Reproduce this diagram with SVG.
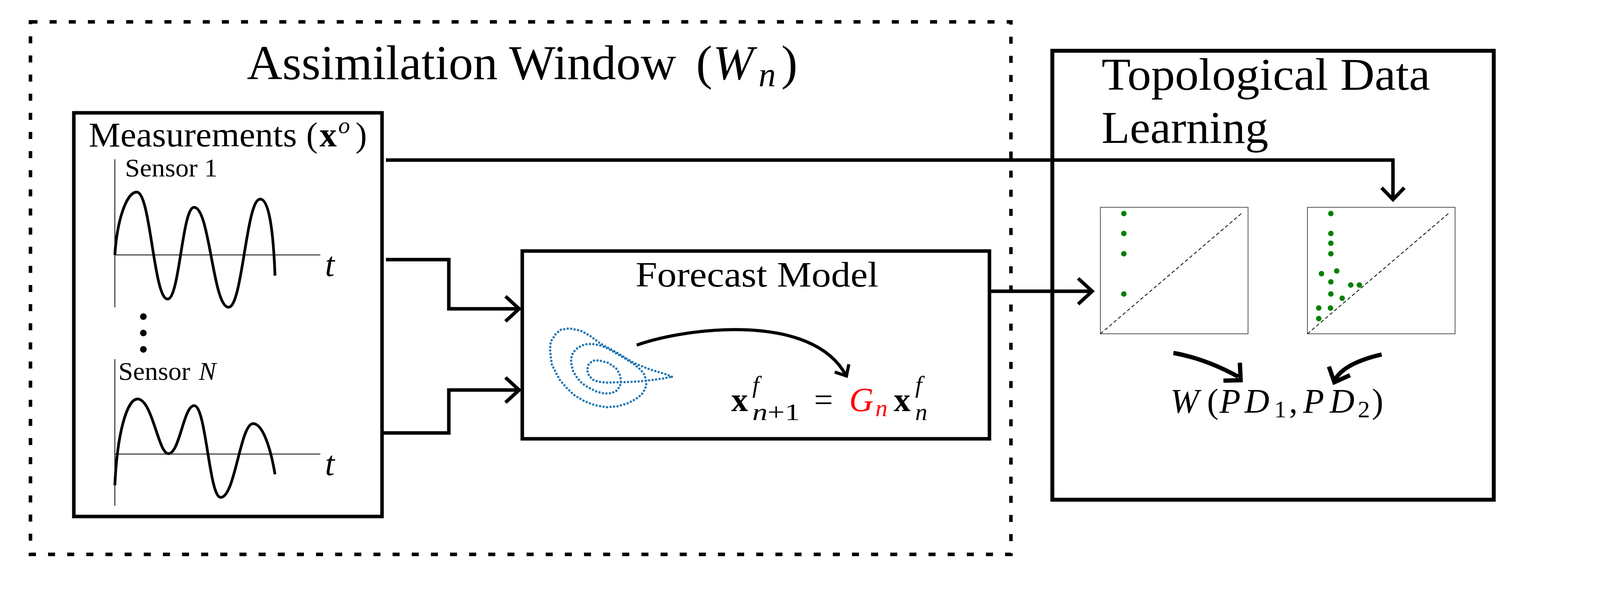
<svg xmlns="http://www.w3.org/2000/svg" width="4917" height="1542" viewBox="0 0 4917 1542">
<style>
.t{font-family:"Liberation Serif","DejaVu Serif",serif;fill:#000}
.i{font-style:italic}
.b{font-weight:bold}
.box{fill:none;stroke:#000;stroke-width:9}
.con{fill:none;stroke:#000;stroke-width:9;stroke-linejoin:miter}
.wave{fill:none;stroke:#000;stroke-width:7;stroke-linecap:butt}
.axis{fill:none;stroke:#000;stroke-width:2}
.pd{fill:#fff;stroke:#555;stroke-width:2}
.diag{fill:none;stroke:#000;stroke-width:2;stroke-dasharray:9 6}
.att{fill:none;stroke:#1f77b4;stroke-width:6;stroke-linecap:round;stroke-dasharray:0 9}
.g{fill:#008000}
</style>
<rect width="4917" height="1542" fill="#fff"/>

<g id="assimilation-window">
  <rect x="78" y="56" width="2510" height="1364" fill="none" stroke="#000" stroke-width="9" stroke-dasharray="18 31"/>
  <text class="t" x="632" y="203" font-size="125" textLength="1099" lengthAdjust="spacingAndGlyphs">Assimilation Window</text>
  <text class="t" x="1782" y="203" font-size="125">(</text>
  <text class="t i" x="1825" y="203" font-size="125">W</text>
  <text class="t i" x="1942" y="221" font-size="88">n</text>
  <text class="t" x="2000" y="203" font-size="125">)</text>
</g>

<g id="measurements">
  <rect class="box" x="189" y="289" width="789" height="1034"/>
  <text class="t" x="227" y="375" font-size="88" textLength="533" lengthAdjust="spacingAndGlyphs">Measurements</text>
  <text class="t" x="784" y="375" font-size="88">(</text>
  <text class="t b" x="818" y="375" font-size="88">x</text>
  <text class="t i" x="866" y="341" font-size="60">o</text>
  <text class="t" x="910" y="375" font-size="88">)</text>
  <!-- sensor 1 -->
  <path class="axis" d="M294 408 V787 M294 653 H820"/>
  <text class="t" x="320" y="452" font-size="66" textLength="237" lengthAdjust="spacingAndGlyphs">Sensor 1</text>
  <path class="wave" d="M294 653 C300 560,325 492,350 492 C386 492,393 766,429 766 C460 766,466 531,497 531 C537 531,545 787,585 787 C621 787,630 510,666 510 C690 510,700 600,704 706"/>
  <text class="t i" x="832" y="707" font-size="88">t</text>
  <circle cx="367" cy="811" r="8.5"/>
  <circle cx="367" cy="853" r="8.5"/>
  <circle cx="367" cy="895" r="8.5"/>
  <!-- sensor N -->
  <path class="axis" d="M294 920 V1295 M294 1163 H820"/>
  <text class="t" x="303" y="973" font-size="66" textLength="184" lengthAdjust="spacingAndGlyphs">Sensor</text>
  <text class="t i" x="509" y="973" font-size="66">N</text>
  <path class="wave" d="M294 1243 C300 1110,325 1022,352 1022 C390 1022,405 1162,431 1162 C460 1162,470 1039,497 1039 C528 1039,535 1274,565 1274 C602 1274,615 1085,648 1085 C675 1085,695 1160,704 1215"/>
  <text class="t i" x="832" y="1217" font-size="88">t</text>
</g>

<g id="forecast-model">
  <rect class="box" x="1337" y="643" width="1196" height="481"/>
  <text class="t" x="1627" y="734" font-size="92" textLength="622" lengthAdjust="spacingAndGlyphs">Forecast Model</text>
  <path class="att" d="M1720 965 L1703 958 L1660 945 L1623 930 L1577 902 L1537 880 L1513 862 L1487 847 L1457 841 L1435 845 L1423 855 L1410 875 L1408 893 L1410 915 L1413 935 L1433 973 L1450 993 L1470 1012 L1495 1027 L1523 1038 L1553 1043 L1580 1041 L1607 1033 L1628 1022 L1643 1010 L1652 995 L1655 980 L1650 960 L1640 947 L1623 933 L1600 918 L1577 905 L1557 893 L1537 885 L1517 881 L1497 882 L1480 890 L1467 903 L1462 918 L1462 930 L1467 950 L1477 967 L1490 982 L1507 993 L1527 1003 L1547 1008 L1565 1007 L1577 1002 L1587 990 L1590 973 L1586 958 L1577 943 L1556 929 L1533 923 L1518 924 L1507 933 L1503 948 L1508 963 L1520 974 L1533 978 L1553 980 L1595 979 L1637 977 L1673 973 L1700 969 L1720 965"/>
  <path fill="none" stroke="#000" stroke-width="8" d="M1630 884 C1760 838,2080 800,2166 962"/>
  <polyline fill="none" stroke="#000" stroke-width="8" points="2137,953 2167,963 2173,933"/>
  <text class="t b" x="1872" y="1053" font-size="86">x</text>
  <text class="t i" x="1926" y="1006" font-size="62">f</text>
  <text class="t" x="1926" y="1076" font-size="62" textLength="122" lengthAdjust="spacingAndGlyphs"><tspan class="i">n</tspan>+1</text>
  <text class="t" x="2084" y="1053" font-size="86">=</text>
  <text class="t i" x="2174" y="1053" font-size="86" style="fill:#f00">G</text>
  <text class="t i" x="2241" y="1066" font-size="62" style="fill:#f00">n</text>
  <text class="t b" x="2288" y="1053" font-size="86">x</text>
  <text class="t i" x="2343" y="1006" font-size="62">f</text>
  <text class="t i" x="2343" y="1076" font-size="62">n</text>
</g>

<g id="topological-data-learning">
  <rect x="2694" y="130" width="1130" height="1150" fill="none" stroke="#000" stroke-width="10"/>
  <text class="t" x="2820" y="230" font-size="116" textLength="841" lengthAdjust="spacingAndGlyphs">Topological Data</text>
  <text class="t" x="2820" y="366" font-size="116" textLength="427" lengthAdjust="spacingAndGlyphs">Learning</text>
</g>

<g id="persistence-diagram-1">
  <rect class="pd" x="2817" y="531" width="378" height="324"/>
  <path class="diag" d="M2817 855 L3178 547"/>
  <circle class="g" cx="2877" cy="547" r="7"/>
  <circle class="g" cx="2877" cy="598" r="7"/>
  <circle class="g" cx="2877" cy="650" r="7"/>
  <circle class="g" cx="2877" cy="753" r="7"/>
</g>

<g id="persistence-diagram-2">
  <rect class="pd" x="3347" y="531" width="378" height="324"/>
  <path class="diag" d="M3347 855 L3708 547"/>
  <circle class="g" cx="3407" cy="547" r="7"/>
  <circle class="g" cx="3407" cy="598" r="7"/>
  <circle class="g" cx="3407" cy="623" r="7"/>
  <circle class="g" cx="3407" cy="650" r="7"/>
  <circle class="g" cx="3383" cy="701" r="7"/>
  <circle class="g" cx="3422" cy="694" r="7"/>
  <circle class="g" cx="3407" cy="722" r="7"/>
  <circle class="g" cx="3458" cy="730" r="7"/>
  <circle class="g" cx="3480" cy="730" r="7"/>
  <circle class="g" cx="3407" cy="753" r="7"/>
  <circle class="g" cx="3436" cy="764" r="7"/>
  <circle class="g" cx="3376" cy="789" r="7"/>
  <circle class="g" cx="3406" cy="789" r="7"/>
  <circle class="g" cx="3376" cy="816" r="7"/>
</g>

<g id="wasserstein">
  <text class="t i" x="2996" y="1057" font-size="88">W</text>
  <text class="t" x="3090" y="1057" font-size="88">(</text>
  <text class="t i" x="3122" y="1057" font-size="88">P</text>
  <text class="t i" x="3186" y="1057" font-size="88">D</text>
  <text class="t" x="3262" y="1069" font-size="62">1</text>
  <text class="t" x="3300" y="1057" font-size="88">,</text>
  <text class="t i" x="3336" y="1057" font-size="88">P</text>
  <text class="t i" x="3404" y="1057" font-size="88">D</text>
  <text class="t" x="3476" y="1069" font-size="62">2</text>
  <text class="t" x="3512" y="1057" font-size="88">)</text>
</g>

<g id="connectors">
  <path class="con" d="M988 410 H3566 V510"/>
  <polyline class="con" points="3537,481 3566,511 3595,481"/>
  <path class="con" d="M988 665 H1149 V791 H1328"/>
  <polyline class="con" points="1294,759 1329,791 1294,823"/>
  <path class="con" d="M982 1109 H1149 V999 H1328"/>
  <polyline class="con" points="1294,967 1329,999 1294,1031"/>
  <path class="con" d="M2533 746 H2795"/>
  <polyline class="con" points="2760,713 2796,746 2760,779"/>
  <path fill="none" stroke="#000" stroke-width="11" d="M3004 904 Q3087 919 3170 965"/>
  <polyline fill="none" stroke="#000" stroke-width="11" points="3174,929 3176,974 3132,975"/>
  <path fill="none" stroke="#000" stroke-width="11" d="M3537 908 Q3442 930 3418 972"/>
  <polyline fill="none" stroke="#000" stroke-width="11" points="3402,939 3416,979 3456,961"/>
</g>
</svg>
